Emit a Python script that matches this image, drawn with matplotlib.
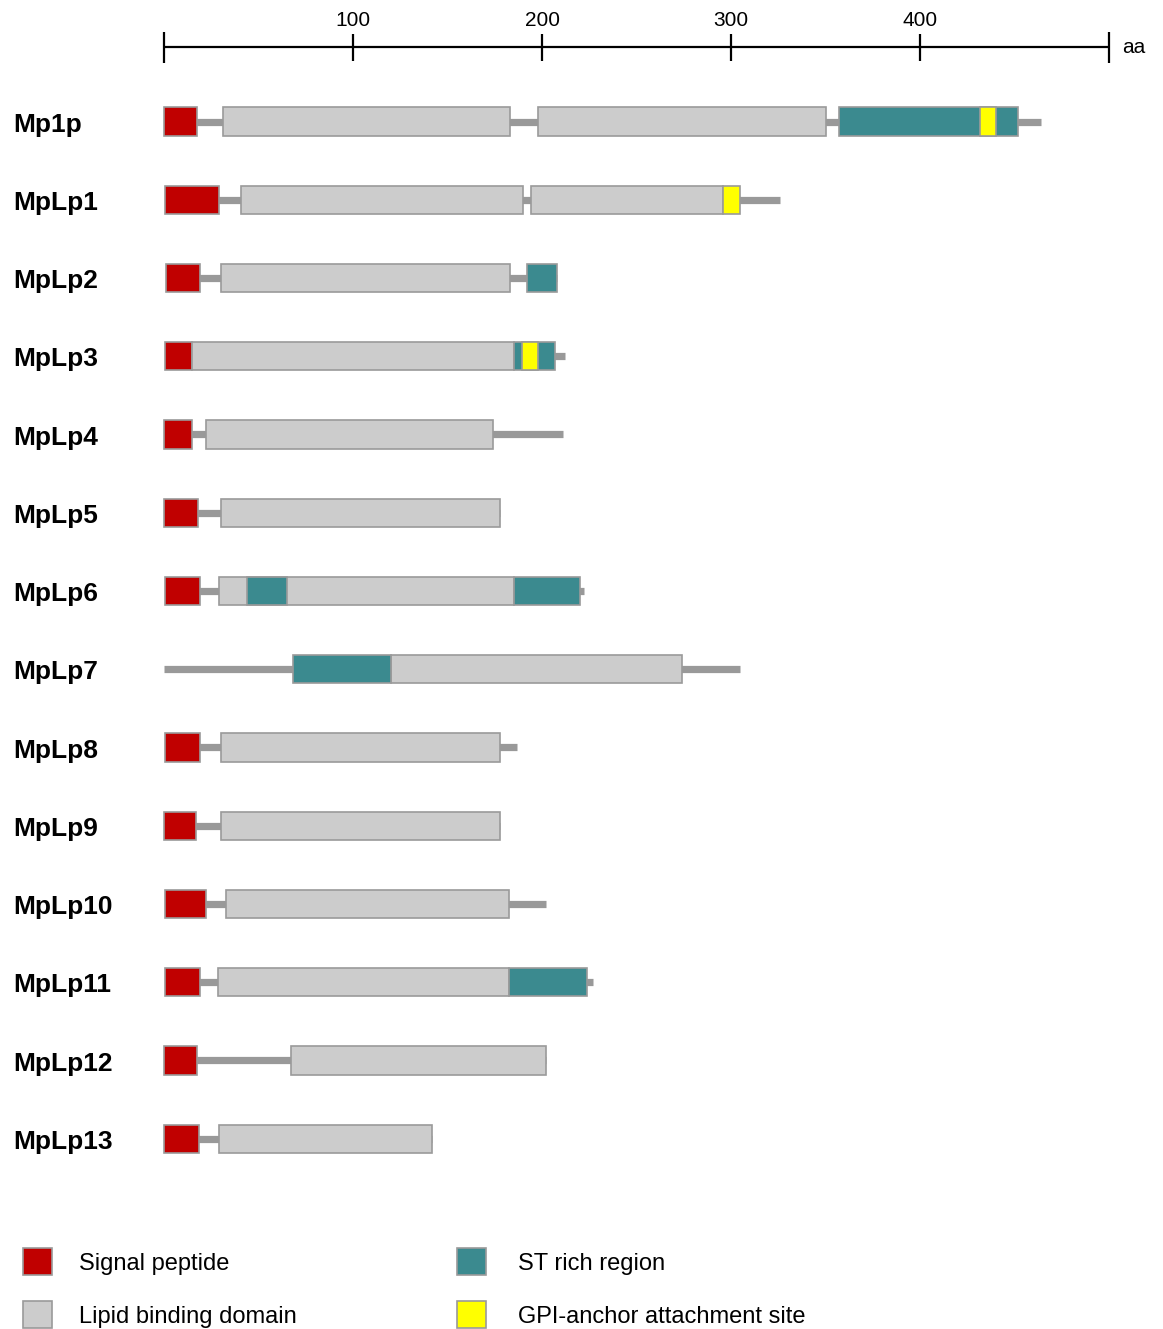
import matplotlib
matplotlib.use("Agg")
import matplotlib.pyplot as plt

plt.rcParams['font.family'] = ['Liberation Sans', 'DejaVu Sans']

# protein names and total lengths (aa)
proteins = ['Mp1p', 'MpLp1', 'MpLp2', 'MpLp3', 'MpLp4', 'MpLp5', 'MpLp6',
            'MpLp7', 'MpLp8', 'MpLp9', 'MpLp10', 'MpLp11', 'MpLp12', 'MpLp13']
lengths = [464, 326, 208, 212, 211, 178, 222, 305, 187, 178, 202, 227, 202, 142]

# domains as (start, end) in aa
signal_peptide = [(0, 17.5), (0.5, 29), (1, 19), (0.5, 15), (0, 15), (0, 18),
                  (0.5, 19), None, (0.5, 19), (0, 17), (0.5, 22), (0.5, 19),
                  (0, 17.5), (0, 18.5)]
lipid_domains = [[(31, 183), (198, 350.5)], [(41, 190), (194, 296)], [(30, 183)],
                 [(15, 185)], [(22, 174)], [(30, 178)], [(29, 185)], [(120, 274)],
                 [(30, 178)], [(30, 178)], [(33, 182.5)], [(28.5, 182.5)],
                 [(67, 202)], [(29, 142)]]
st_regions = [[(357, 452)], [], [(192, 208)], [(185, 207)], [], [], [(44, 65), (185, 220)],
              [(68, 120)], [], [], [], [(182.5, 224)], [], []]
gpi_sites = [[(431.5, 440)], [(296, 304.5)], [], [(189.5, 198)], [], [], [], [],
             [], [], [], [], [], []]

scale_ticks = [100, 200, 300, 400]
scale_max = 500

legend_labels = ['Signal peptide', 'Lipid binding domain', 'ST rich region',
                 'GPI-anchor attachment site']

RED = '#c00000'
GREY = '#cccccc'
TEAL = '#3b8a8f'
YELLOW = '#ffff00'
LINE = '#999999'
EDGE = '#9a9a9a'
legend_colors = [RED, GREY, TEAL, YELLOW]

fig = plt.figure(figsize=(11.63, 13.29), dpi=100)
ax = fig.add_axes([0, 0, 1, 1])
ax.set_xlim(-164 / 1.89, (1163 - 164) / 1.89)
ax.set_ylim((1329 - 121.5) / 78.25, -121.5 / 78.25)
ax.axis('off')

BOX_H = 0.36


def draw_boxes(y, segs, color, z):
    for s, e in segs:
        ax.barh(y, e - s, left=s, height=BOX_H, color=color, edgecolor=EDGE,
                linewidth=1.2, zorder=z)


for i, name in enumerate(proteins):
    start = signal_peptide[i][0] if signal_peptide[i] is not None else 0
    ax.hlines(i, start, lengths[i], color=LINE, linewidth=5.2, zorder=1)
    if signal_peptide[i] is not None:
        draw_boxes(i, [signal_peptide[i]], RED, 2)
    draw_boxes(i, lipid_domains[i], GREY, 2)
    draw_boxes(i, st_regions[i], TEAL, 3)
    draw_boxes(i, gpi_sites[i], YELLOW, 4)
    ax.text(-79.5, i + 0.04, name, fontsize=19, fontweight='bold', ha='left', va='center')

# scale bar
sy = -0.952
ax.hlines(sy, 0, scale_max, color='black', linewidth=1.6)
ax.vlines([0, scale_max], sy - 0.19, sy + 0.2, color='black', linewidth=1.6)
ax.vlines(scale_ticks, sy - 0.16, sy + 0.18, color='black', linewidth=1.6)
for t in scale_ticks:
    ax.text(t, sy - 0.34, str(t), fontsize=15, ha='center', va='center')
ax.text(507, sy, 'aa', fontsize=15, ha='left', va='center')

# legend
leg_x = [-74.6, -74.6, 155, 155]
leg_y = [14.57, 15.24, 14.57, 15.24]
leg_tx = [-45, -45, 187.3, 187.3]
for lab, col, lx, ly, tx in zip(legend_labels, legend_colors, leg_x, leg_y, leg_tx):
    ax.barh(ly, 15.5, left=lx, height=0.345, color=col, edgecolor=EDGE,
            linewidth=1.2, clip_on=False)
    ax.text(tx, ly + 0.035, lab, fontsize=17, ha='left', va='center')

fig.savefig('out.png', dpi=100)
